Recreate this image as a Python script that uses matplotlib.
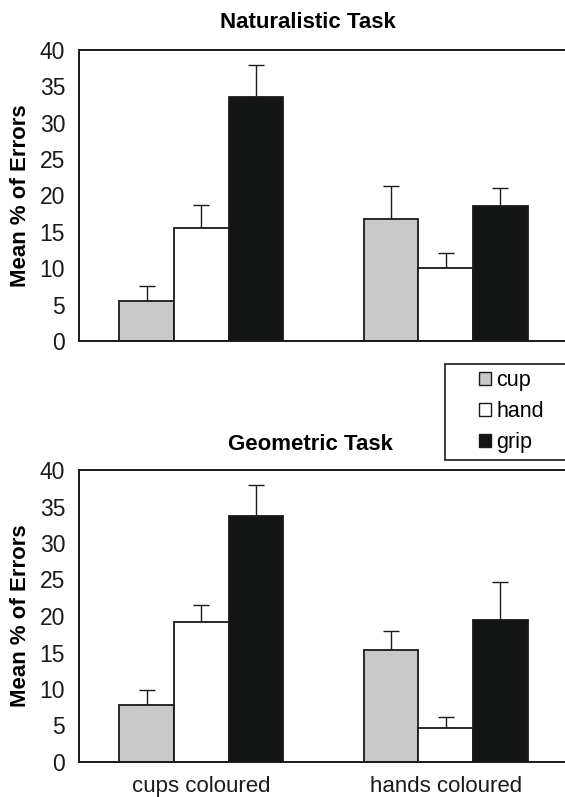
import numpy as np
import matplotlib
matplotlib.use("Agg")
import matplotlib.pyplot as plt
from matplotlib.patches import Patch, Rectangle

plt.rcParams['font.family'] = ['Liberation Sans', 'DejaVu Sans']

# data
groups = ['cups coloured', 'hands coloured']
series = ['cup', 'hand', 'grip']
colors = ['#c8c9c8', '#ffffff', '#131515']

nat_means = [[5.5, 16.8], [15.6, 10.0], [33.6, 18.5]]
nat_errs = [[2.1, 4.5], [3.1, 2.1], [4.3, 2.5]]
geo_means = [[7.8, 15.4], [19.2, 4.7], [33.7, 19.4]]
geo_errs = [[2.1, 2.6], [2.3, 1.4], [4.2, 5.3]]

W, H = 565, 797
fig = plt.figure(figsize=(W / 100, H / 100), dpi=100)

def px_axes(left, top, right, bottom):
    return fig.add_axes([left / W, 1 - bottom / H, (right - left) / W, (bottom - top) / H])

ax1 = px_axes(79, 50, 568, 341)
ax2 = px_axes(79, 470, 568, 762)

x = np.arange(len(groups))
bw = 0.223

def draw(ax, means, errs):
    for i, (m, e, c) in enumerate(zip(means, errs, colors)):
        pos = x + (i - 1) * bw
        ax.bar(pos, m, bw, color=c, edgecolor='#1a1a1a', linewidth=1.3, zorder=2)
        ax.errorbar(pos, m, yerr=[np.zeros(len(e)), e], fmt='none',
                    ecolor='#1a1a1a', elinewidth=1.0, capsize=6, capthick=1.0, zorder=1)
    ax.set_xlim(-0.5, 1.5)
    ax.set_ylim(0, 40)
    ax.set_yticks(range(0, 41, 5))
    ax.tick_params(axis='y', length=0, pad=10, labelsize=16.5, colors='#1a1a1a')
    ax.tick_params(axis='x', length=0, pad=10, labelsize=16, colors='#1a1a1a')
    for s in ax.spines.values():
        s.set_linewidth(1.4)
        s.set_color('#1a1a1a')
    ax.set_ylabel('Mean % of Errors', fontsize=16, fontweight='bold', labelpad=6)

draw(ax1, nat_means, nat_errs)
ax1.set_xticks([])
draw(ax2, geo_means, geo_errs)
ax2.set_xticks(x)
ax2.set_xticklabels(groups)

fig.text(308 / W, 1 - 23 / H, 'Naturalistic Task', ha='center', va='center',
         fontsize=16, fontweight='bold')
fig.text(310 / W, 1 - 445 / H, 'Geometric Task', ha='center', va='center',
         fontsize=16, fontweight='bold')

# legend box
fig.add_artist(Rectangle((445 / W, 1 - 460 / H), 122 / W, 96 / H, transform=fig.transFigure,
                         facecolor='white', edgecolor='#1a1a1a', linewidth=1.2))
handles = [Patch(facecolor=c, edgecolor='#1a1a1a', linewidth=1.0) for c in colors]
fig.legend(handles, series, loc='upper left', bbox_to_anchor=(475 / W, 1 - 366 / H),
           frameon=False, fontsize=15.5, handlelength=0.55, handleheight=0.55,
           handletextpad=0.25, labelspacing=0.45, borderaxespad=0, borderpad=0.2)

fig.savefig('out.png', dpi=100)
